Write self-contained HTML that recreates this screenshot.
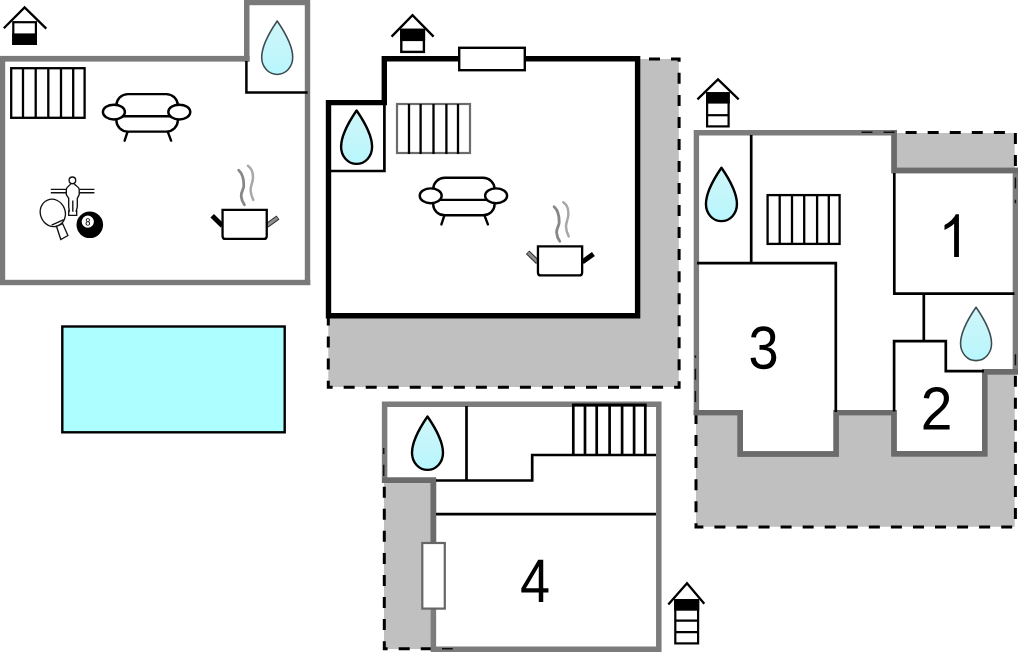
<!DOCTYPE html>
<html><head><meta charset="utf-8">
<style>
html,body{margin:0;padding:0;background:#fff;}
body{width:1018px;height:652px;overflow:hidden;font-family:"Liberation Sans",sans-serif;}
svg{display:block;}
</style></head><body>
<svg width="1018" height="652" viewBox="0 0 1018 652">
<defs>
  <linearGradient id="wg" x1="0" y1="0" x2="0" y2="1">
    <stop offset="0" stop-color="#cff6f9"/><stop offset="1" stop-color="#b8f6fd"/>
  </linearGradient>
  <g id="sofa" fill="#fff" stroke="#000" stroke-width="2.4" stroke-linecap="round">
    <line x1="12.4" y1="38.7" x2="9.4" y2="47.8"/>
    <line x1="52.5" y1="38.7" x2="55.9" y2="47.8"/>
    <rect x="1.2" y="1.2" width="61.4" height="37.5" rx="11.5" ry="11"/>
    <line x1="8" y1="23.3" x2="56" y2="23.3"/>
    <ellipse cx="-1.3" cy="19.2" rx="11" ry="7.4"/>
    <ellipse cx="64.1" cy="19.2" rx="11" ry="7.4"/>
  </g>
  <g id="potbody">
    <path d="M1.15 1.15H45.35V27.2Q45.35 30.25 42.3 30.25H4.2Q1.15 30.25 1.15 27.2Z" fill="#fff" stroke="#000" stroke-width="2.3"/>
    <path d="M17.3 -38.4C20 -36 22.5 -32 22.4 -23C22.3 -19 19.5 -17 19.8 -12.5C20 -9 21.5 -6 23 -3.9" fill="none" stroke="#878787" stroke-width="2.8" stroke-linecap="round"/>
    <path d="M26.5 -43C29.5 -41 31.8 -37 31.6 -30.7C31.4 -26 29 -23 29.2 -18.5C29.4 -14.5 30.5 -11.5 31.9 -8.8" fill="none" stroke="#a8a8a8" stroke-width="2.5" stroke-linecap="round"/>
  </g>
  <path id="drop" d="M0 0C5.5 8 15.5 23 15.5 36.3C15.5 46 8.6 53.4 0 53.4C-8.6 53.4 -15.5 46 -15.5 36.3C-15.5 23 -5.5 8 0 0Z" fill="url(#wg)" stroke-linejoin="round"/>
  <path id="d1" d="M763 0H583V1147Q518 1085 412 1023Q307 961 223 930V1104Q374 1175 487 1276Q600 1377 647 1472H763Z"/>
  <path id="d2" d="M103 0V127Q154 244 227.5 333.5Q301 423 382.0 495.5Q463 568 542.5 630.0Q622 692 686.0 754.0Q750 816 789.5 884.0Q829 952 829 1038Q829 1154 761.0 1218.0Q693 1282 572 1282Q457 1282 382.5 1219.5Q308 1157 295 1044L111 1061Q131 1230 254.5 1330.0Q378 1430 572 1430Q785 1430 899.5 1329.5Q1014 1229 1014 1044Q1014 962 976.5 881.0Q939 800 865.0 719.0Q791 638 582 468Q467 374 399.0 298.5Q331 223 301 153H1036V0Z"/>
  <path id="d3" d="M1049 389Q1049 194 925.0 87.0Q801 -20 571 -20Q357 -20 229.5 76.5Q102 173 78 362L264 379Q300 129 571 129Q707 129 784.5 196.0Q862 263 862 395Q862 510 773.5 574.5Q685 639 518 639H416V795H514Q662 795 743.5 859.5Q825 924 825 1038Q825 1151 758.5 1216.5Q692 1282 561 1282Q442 1282 368.5 1221.0Q295 1160 283 1049L102 1063Q122 1236 245.5 1333.0Q369 1430 563 1430Q775 1430 892.5 1331.5Q1010 1233 1010 1057Q1010 922 934.5 837.5Q859 753 715 723V719Q873 702 961.0 613.0Q1049 524 1049 389Z"/>
  <path id="d4" d="M881 319V0H711V319H47V459L692 1409H881V461H1079V319ZM711 1206Q709 1200 683.0 1153.0Q657 1106 644 1087L283 555L229 481L213 461H711Z"/>
  <path id="d8" d="M1050 393Q1050 198 926.0 89.0Q802 -20 570 -20Q344 -20 216.5 87.0Q89 194 89 391Q89 529 168.0 623.0Q247 717 370 737V741Q255 768 188.5 858.0Q122 948 122 1069Q122 1230 242.5 1330.0Q363 1430 566 1430Q774 1430 894.5 1332.0Q1015 1234 1015 1067Q1015 946 948.0 856.0Q881 766 765 743V739Q900 717 975.0 624.5Q1050 532 1050 393ZM828 1057Q828 1296 566 1296Q439 1296 372.5 1236.0Q306 1176 306 1057Q306 936 374.5 872.5Q443 809 568 809Q695 809 761.5 867.5Q828 926 828 1057ZM863 410Q863 541 785.0 607.5Q707 674 566 674Q429 674 352.0 602.5Q275 531 275 406Q275 115 572 115Q719 115 791.0 185.5Q863 256 863 410Z"/>
</defs>
<rect width="1018" height="652" fill="#fff"/>

<!-- ============ BUILDING 1 ============ -->
<g fill="#7a7a7a">
  <rect x="0" y="55.9" width="249.5" height="5.7"/>
  <rect x="0" y="56" width="5.2" height="229"/>
  <rect x="0" y="279.8" width="310.2" height="5.4"/>
  <rect x="304.8" y="0" width="5.4" height="285"/>
  <rect x="244" y="0" width="5.5" height="61.6"/>
  <rect x="244" y="0" width="66" height="5.2"/>
</g>
<path d="M246.4 61V92.6H307.6" fill="none" stroke="#000" stroke-width="2.5"/>
<!-- house icon 1 -->
<g>
  <rect x="13.3" y="22.2" width="22.6" height="21.6" fill="#fff" stroke="#000" stroke-width="2.2"/>
  <rect x="12.2" y="33.4" width="24.8" height="11.5" fill="#000"/>
  <path d="M3.8 28.2L24.6 7.4L46.3 28.6" fill="none" stroke="#000" stroke-width="2.3"/>
</g>
<!-- stairs 1 -->
<g fill="#fff" stroke="#000" stroke-width="2.3">
  <rect x="11.2" y="68.2" width="73.4" height="49.6"/>
  <path d="M23 68V118M35.7 68V118M48.3 68V118M61 68V118M73.2 68V118" fill="none"/>
</g>
<use href="#sofa" x="115.2" y="92.9"/>
<!-- pot 1 -->
<g transform="translate(221.4,208.7)">
  <line x1="-9.2" y1="7" x2="1" y2="17" stroke="#000" stroke-width="5"/>
  <line x1="45.5" y1="16.8" x2="56.6" y2="8.8" stroke="#333" stroke-width="5"/>
  <line x1="45.5" y1="16.8" x2="56" y2="9.2" stroke="#909090" stroke-width="2.8"/>
  <use href="#potbody"/>
</g>
<!-- droplet 1 -->
<use href="#drop" x="277.2" y="21" stroke="#3c4c50" stroke-width="1.55"/>
<!-- games -->
<g fill="#fff" stroke="#111" stroke-width="1.35">
  <ellipse cx="52.8" cy="212.9" rx="12.4" ry="13.9" transform="rotate(-22 52.8 212.9)"/>
  <path d="M56.5 226.3L62.6 223.6L67.9 235.5L60.8 239.5Z"/>
  <path d="M51.6 225.1L63.8 219.6" fill="none"/>
  <path d="M50.8 189.4H94.4M50.8 192.7H94.4" fill="none"/>
  <path d="M70.6 183.6C70.2 186 66.3 186.2 66.3 189.5V194.5L68.7 198.5V207L69.3 211H68.7V215.3H76.7V211H76.2L77.3 207V198.5L79.2 194.5V189.5C79.2 186.2 74.8 186 74.4 183.6Z"/>
  <path d="M72.8 200.6V211.8" fill="none"/>
  <circle cx="72.4" cy="180.3" r="3.3"/>
</g>
<circle cx="89.8" cy="224.8" r="13.3" fill="#000"/>
<circle cx="87.8" cy="221.7" r="6.1" fill="#fff"/>
<use href="#d8" stroke="#000" stroke-width="0.45" vector-effect="non-scaling-stroke" transform="translate(85.2,225.5) scale(0.0046,-0.0051)"/>
<!-- pool -->
<rect x="62.3" y="326.5" width="222.4" height="105.8" fill="#adffff" stroke="#000" stroke-width="2.4"/>

<!-- ============ BUILDING 2 ============ -->
<path d="M640 59H678.8V387H328.3V318H640Z" fill="#c0c0c0"/>
<path d="M649 58.9H679.1V387.3H328.3V318" fill="none" stroke="#000" stroke-width="3" stroke-dasharray="11 11.03"/>
<path d="M328.5 102.6H384.3V58.8H637.6V315.8H328.5Z" fill="#fff" stroke="#000" stroke-width="5.4"/>
<path d="M384.4 105V171H331" fill="none" stroke="#000" stroke-width="2.7"/>
<rect x="459.2" y="47.8" width="65.6" height="22.4" fill="#fff" stroke="#000" stroke-width="2.4"/>
<!-- house icon 2 -->
<g>
  <rect x="401.3" y="30" width="22.6" height="21.9" fill="#fff" stroke="#000" stroke-width="2.4"/>
  <rect x="400.1" y="28.7" width="25" height="12.4" fill="#000"/>
  <path d="M391.6 36.6L412.5 15.2L433.6 36.6" fill="none" stroke="#000" stroke-width="2.4"/>
</g>
<!-- stairs 2 -->
<g>
  <rect x="397" y="104" width="73" height="49" fill="none" stroke="#6c6c6c" stroke-width="2.2"/>
  <path d="M409 104V154M420.6 104V154M433.5 104V154M446.4 104V154M458 104V154" fill="none" stroke="#000" stroke-width="2.3"/>
</g>
<use href="#sofa" x="432" y="176.6"/>
<g transform="translate(536.8,245.2)">
  <line x1="-9.2" y1="7" x2="1" y2="17" stroke="#333" stroke-width="5"/>
  <line x1="-8.7" y1="7.5" x2="1" y2="17" stroke="#909090" stroke-width="2.8"/>
  <line x1="45.5" y1="16.8" x2="56.6" y2="8.8" stroke="#000" stroke-width="5"/>
  <use href="#potbody"/>
</g>
<use href="#drop" x="356.6" y="110.5" stroke="#000" stroke-width="2.4"/>

<!-- ============ BUILDING 3 ============ -->
<path d="M894 133H1014.7V526.7H696V412H894Z" fill="#c0c0c0"/>
<path d="M861.5 132.5H1015.4V526.9H696V340" fill="none" stroke="#000" stroke-width="3" stroke-dasharray="11 11.06"/>
<path d="M696.5 133H894V170.5H1015.4V371.7H984.7V453.8H894V412.6H836.2V454H740.2V412.6H696.5Z" fill="#fff"/>
<path d="M696.4 412.6V132.7H894.1V170.5H1015.4V371.7H984.7V453.8H894V412.6H836.2V454H740.2V412.6H693.7" fill="none" stroke="#7c7c7c" stroke-width="5.4"/>
<path d="M693.7 412.6H740.2V454H836.2V412.6H894V453.8H984.7V371.7H1018M894.1 130V170.5H1018" fill="none" stroke="#6b6b6b" stroke-width="5.4"/>
<path d="M861.5 132.3H872.5M883.6 132.3H894.6M1015.4 177.4V188.4M1015.4 199.7V203.3M1015.4 354.2V365.2M695.4 390.9V401.9M695.4 368.8V379.8M695.4 355.5V357.8" fill="none" stroke="#111" stroke-width="1.5"/>
<g fill="none" stroke="#000" stroke-width="2.7">
  <path d="M751.2 135V263"/>
  <path d="M697 263.2H835.8V412"/>
  <path d="M894.3 173V293.6H1014.5"/>
  <path d="M923.8 294V341"/>
  <path d="M894.1 411.5V341.2H945.8V371.2H984"/>
</g>
<!-- house icon 3 -->
<g>
  <rect x="707.1" y="93.3" width="21.5" height="33.1" fill="#fff" stroke="#000" stroke-width="2.2"/>
  <rect x="706" y="92.2" width="23.7" height="11.4" fill="#000"/>
  <path d="M707 115.2H729" stroke="#000" stroke-width="2.2"/>
  <path d="M697.4 99.3L718 79.4L738.7 99.3" fill="none" stroke="#000" stroke-width="2.3"/>
</g>
<g fill="#fff" stroke="#000" stroke-width="2.3">
  <rect x="767.6" y="195.1" width="72" height="48.8"/>
  <path d="M779.7 195V244M792 195V244M804.2 195V244M817.1 195V244M828.8 195V244" fill="none"/>
</g>
<use href="#drop" x="721.45" y="167.7" stroke="#000" stroke-width="2.4"/>
<use href="#drop" x="976.05" y="307.2" stroke="#3c4c50" stroke-width="1.55"/>
<use href="#d1" stroke="#000" stroke-width="0.55" vector-effect="non-scaling-stroke" transform="translate(938.55,256.9) scale(0.0267,-0.029)"/>
<use href="#d2" stroke="#000" stroke-width="0.55" vector-effect="non-scaling-stroke" transform="translate(920.7,429.6) scale(0.0279,-0.0298)"/>
<use href="#d3" stroke="#000" stroke-width="0.55" vector-effect="non-scaling-stroke" transform="translate(748.5,368.6) scale(0.02647,-0.02959)"/>

<!-- ============ BUILDING 4 ============ -->
<rect x="384" y="482" width="48" height="167" fill="#c0c0c0"/>
<path d="M384.3 442.6V648.8H455" fill="none" stroke="#000" stroke-width="3" stroke-dasharray="11 11.06"/>
<path d="M433.5 652V480H385V404.6H658.8V652Z" fill="#fff"/>
<path d="M433.4 649.2V480.2H384.6V404.3H658.8V649.2Z" fill="none" stroke="#7c7c7c" stroke-width="5.5"/>
<path d="M382 480.2H433.4V542" fill="none" stroke="#6b6b6b" stroke-width="5.5"/>
<path d="M383.7 447.9V454M383.7 464.8V476M442 648.8H452.8" fill="none" stroke="#111" stroke-width="1.5"/>
<g fill="none" stroke="#000" stroke-width="2.7">
  <path d="M466.5 406V480.5"/>
  <path d="M436 480.5H532.2V455H656"/>
  <path d="M436 514.2H656"/>
  <path d="M572.1 404.9H646.4"/>
  <path d="M573.3 404V455M585 404V455M596.7 404V455M609.6 404V455M622.1 404V455M634.1 404V455M645.3 404V455"/>
</g>
<rect x="422.3" y="543" width="22.5" height="65.6" fill="#fff" stroke="#666" stroke-width="2.2"/>
<use href="#drop" x="427.5" y="416.5" stroke="#000" stroke-width="2.4"/>
<use href="#d4" stroke="#000" stroke-width="0.55" vector-effect="non-scaling-stroke" transform="translate(520.1,602.1) scale(0.02626,-0.03)"/>
<!-- house icon 4 -->
<g>
  <rect x="675.3" y="600.1" width="22.8" height="43.3" fill="#fff" stroke="#000" stroke-width="2.2"/>
  <rect x="674.2" y="599" width="25" height="11.7" fill="#000"/>
  <path d="M675 620.7H698M675 632.2H698" stroke="#000" stroke-width="2.2"/>
  <path d="M668.3 604.6L687 583.2L704.3 603.8" fill="none" stroke="#000" stroke-width="2.3"/>
</g>
</svg>
</body></html>
